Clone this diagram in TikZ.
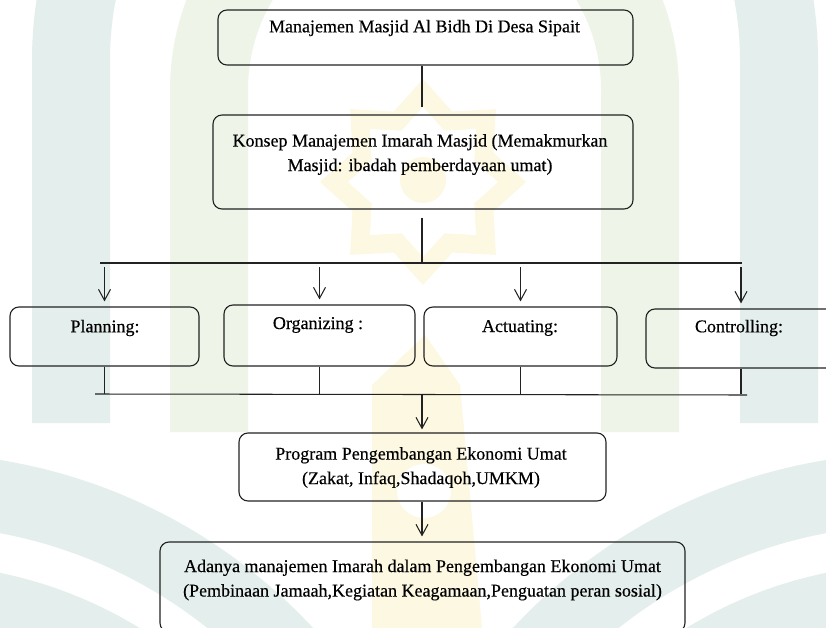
\documentclass[tikz,border=0pt]{standalone}
\usepackage{fontspec}
\setmainfont{Liberation Serif}
\newfontfamily\reffont{Liberation Serif}[FakeBold=0.4]
\usetikzlibrary{arrows.meta,shapes.geometric}
\definecolor{wmteal}{HTML}{E4EEEC}
\definecolor{wmgreen}{HTML}{EEF5E8}
\definecolor{wmyellow}{HTML}{FDF8E1}
\definecolor{ink}{HTML}{222222}
\begin{document}
\begin{tikzpicture}[x=1pt,y=-1pt,
  box/.style={draw=ink, line width=1.15pt, rounded corners=9pt, inner sep=0pt},
  txt/.style={font=\reffont\fontsize{18}{24.5}\selectfont, align=center, inner sep=0pt, text=black},
  conn/.style={draw=ink, line width=1.05pt},
  arr/.style={conn, -{Straight Barb[length=11pt,width=12pt,line width=1.05pt]}},
  wmstar/.style={star, star points=8, star point ratio=1.35, inner sep=0pt, draw=none},
]
\useasboundingbox (0,0) rectangle (826,628);
\begin{scope}
\clip (0,0) rectangle (826,628);
\fill[white] (0,0) rectangle (826,628);
% watermark
\fill[wmteal, even odd rule] (-88,1000) circle (547) (-88,1000) circle (475) (-88,1000) circle (436) (-88,1000) circle (300);
\fill[wmteal, even odd rule] (914,1000) circle (547) (914,1000) circle (475) (914,1000) circle (436) (914,1000) circle (300);
\draw[wmteal, line width=78pt] (71,423) -- (71,60) arc[start angle=180, end angle=360, radius=354] -- (779,423);
\draw[wmgreen, line width=78pt] (209,432) -- (209,90) arc[start angle=180, end angle=360, radius=215.5] -- (640,432);
\node[wmstar, minimum size=206pt, fill=wmyellow] (ws1) at (423,182) {};
\node[wmstar, minimum size=150pt, fill=white] (ws2) at (423,182) {};
\fill[wmyellow] (423,180) circle (23);
\fill[wmyellow] (372,628) -- (372,385) -- (425,335) -- (460,385) -- (482,628) -- cycle;
\fill[white] (424,491) circle (27);
\end{scope}
% boxes
\node[box, minimum width=415pt, minimum height=55pt] (b1) at (425.5,37.5) {};
\node[box, minimum width=420pt, minimum height=94pt] (b2) at (423,162) {};
\node[box, minimum width=189pt, minimum height=59pt] (p) at (104.5,336.5) {};
\node[box, minimum width=191pt, minimum height=61pt] (o) at (319.5,335.5) {};
\node[box, minimum width=193pt, minimum height=59pt] (a) at (520.5,336.5) {};
\node[box, minimum width=190pt, minimum height=59pt] (c) at (741,338.5) {};
\node[box, minimum width=367pt, minimum height=68pt] (prog) at (422.5,467) {};
\node[box, minimum width=525pt, minimum height=90pt] (fin) at (422.5,587) {};
% texts
\node[txt] (t1) at (424.5,28) {Manajemen Masjid Al Bidh Di Desa Sipait};
\node[txt] (t2) at (420,154.5) {Konsep Manajemen Imarah Masjid (Memakmurkan\\Masjid: ibadah pemberdayaan umat)};
\node[txt] (tp) at (105,328) {Planning:};
\node[txt] (to) at (318,325) {Organizing :};
\node[txt] (ta) at (520,328) {Actuating:};
\node[txt] (tc) at (739,328) {Controlling:};
\node[txt] (tprog) at (421,467.5) {Program Pengembangan Ekonomi Umat\\(Zakat, Infaq,Shadaqoh,UMKM)};
\node[txt] (tfin) at (422.5,580) {Adanya manajemen Imarah dalam Pengembangan Ekonomi Umat\\(Pembinaan Jamaah,Kegiatan Keagamaan,Penguatan peran sosial)};
% connectors
\coordinate (v) at (422,0);
\coordinate (hub) at (422,263);
\coordinate (busL) at (100,263);
\coordinate (busR) at (742,263);
\coordinate (bbL) at (95,394);
\coordinate (bbR) at (747,395);
\coordinate (bhub) at (422,395);
\draw[conn, shorten >=7pt] (b1.south -| v) -- (b2.north -| v);
\draw[conn, shorten <=8pt] (b2.south -| v) -- (hub);
\draw[conn] (busL) -- (busR);
\foreach \n in {p,o,a,c} {
  \draw[arr, shorten <=4pt, shorten >=5pt] (\n.north |- hub) -- (\n.north);
  \draw[conn] (\n.south) -- (\n.south |- bbL);
}
\draw[conn] (bbL) -- (bbR);
\draw[arr, shorten >=3pt] (bhub) -- (prog.north -| v);
\draw[arr, shorten >=5pt] (prog.south -| v) -- (fin.north -| v);
\end{tikzpicture}
\end{document}
